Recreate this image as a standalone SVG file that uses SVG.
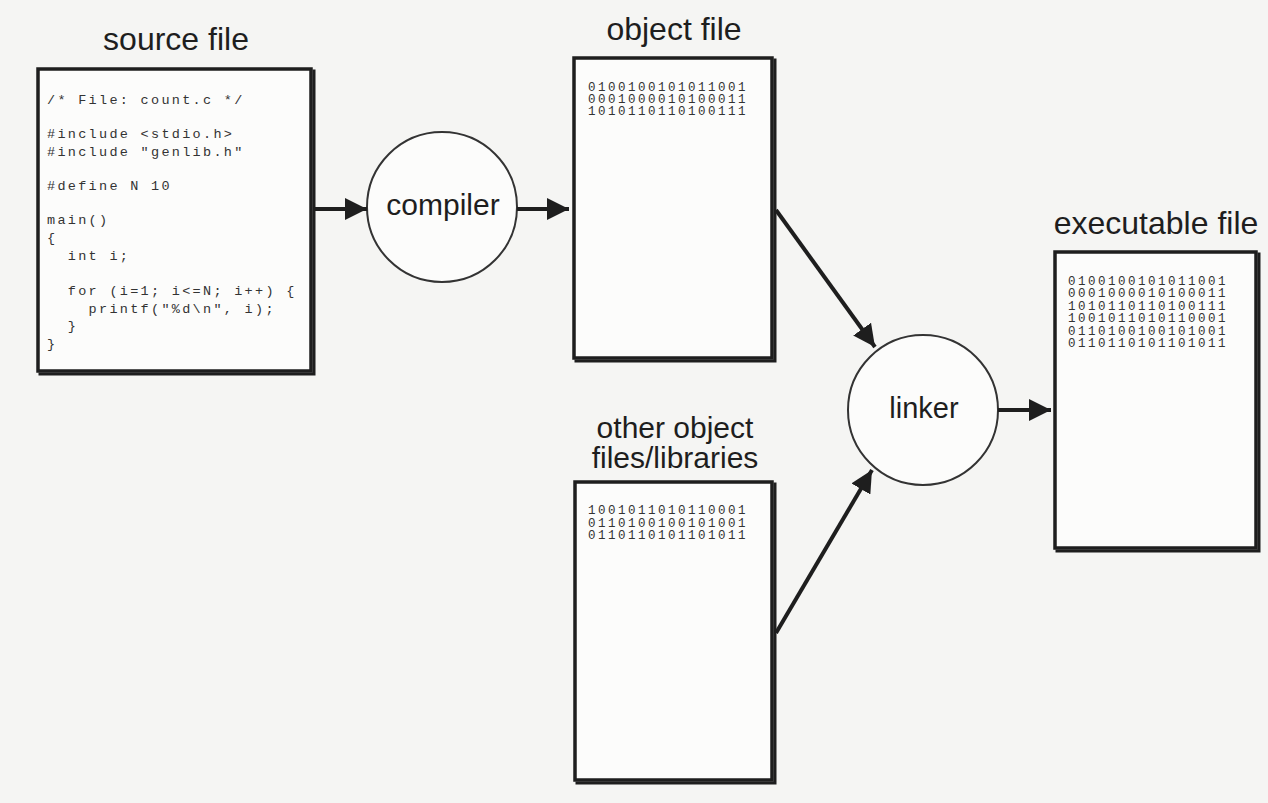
<svg xmlns="http://www.w3.org/2000/svg" width="1268" height="803" viewBox="0 0 1268 803">
<style>
.bg{fill:#f5f5f3}
.box{fill:#fcfcfb;stroke:#1e1e1e;stroke-width:3.5}
.sh{fill:none;stroke:#1e1e1e;stroke-width:3;stroke-linecap:square}
.circ{fill:#fcfcfb;stroke:#333;stroke-width:2}
.title{font-family:"Liberation Sans","DejaVu Sans",sans-serif;font-size:32px;fill:#1e1e1e;text-anchor:middle}
.code{font-family:"Liberation Mono","DejaVu Sans Mono",monospace;font-size:13.5px;fill:#333;letter-spacing:2.3px}
.bin{font-family:"Liberation Mono","DejaVu Sans Mono",monospace;font-size:12.5px;fill:#333;letter-spacing:2.5px}
.conn{stroke:#1e1e1e;stroke-width:4;fill:none}
</style>
<defs>
<marker id="ah" viewBox="0 0 10 10" refX="10" refY="5" markerWidth="5.5" markerHeight="5.5" markerUnits="strokeWidth" orient="auto">
<path d="M0,0 L10,5 L0,10 z" fill="#1e1e1e"/>
</marker>
</defs>
<rect class="bg" x="0" y="0" width="1268" height="803"/>

<g id="source-file">
<text class="title" x="176" y="50">source file</text>
<rect class="box" x="38" y="69" width="273" height="302"/>
<polyline class="sh" points="314,71 314,374 40,374"/>
<text class="code" x="47" y="104">/* File: count.c */</text>
<text class="code" x="47" y="138">#include &lt;stdio.h&gt;</text>
<text class="code" x="47" y="156">#include "genlib.h"</text>
<text class="code" x="47" y="190">#define N 10</text>
<text class="code" x="47" y="224">main()</text>
<text class="code" x="47" y="242">{</text>
<text class="code" x="47" y="260" xml:space="preserve">  int i;</text>
<text class="code" x="47" y="295" xml:space="preserve">  for (i=1; i&lt;=N; i++) {</text>
<text class="code" x="47" y="313" xml:space="preserve">    printf("%d\n", i);</text>
<text class="code" x="47" y="330" xml:space="preserve">  }</text>
<text class="code" x="47" y="348">}</text>
</g>

<g id="compiler">
<circle class="circ" cx="442" cy="207" r="75"/>
<text class="title" x="443" y="215" style="font-size:30px">compiler</text>
</g>

<g id="object-file">
<text class="title" x="674" y="40">object file</text>
<rect class="box" x="574" y="58" width="198" height="300"/>
<polyline class="sh" points="775,60 775,361 576,361"/>
<text class="bin" x="588" y="91">0100100101011001</text>
<text class="bin" x="588" y="103">0001000010100011</text>
<text class="bin" x="588" y="115">1010110110100111</text>
</g>

<g id="other-object-files">
<text class="title" x="675" y="438" style="font-size:30px">other object</text>
<text class="title" x="675" y="468" style="font-size:30px">files/libraries</text>
<rect class="box" x="575" y="482" width="197" height="298"/>
<polyline class="sh" points="775,484 775,783 577,783"/>
<text class="bin" x="588" y="514">1001011010110001</text>
<text class="bin" x="588" y="527">0110100100101001</text>
<text class="bin" x="588" y="539">0110110101101011</text>
</g>

<g id="linker">
<circle class="circ" cx="923" cy="410" r="75"/>
<text class="title" x="924" y="418" style="font-size:29px">linker</text>
</g>

<g id="executable-file">
<text class="title" x="1156" y="234">executable file</text>
<rect class="box" x="1055" y="252" width="201" height="296"/>
<polyline class="sh" points="1259,254 1259,551 1057,551"/>
<text class="bin" x="1068" y="285">0100100101011001</text>
<text class="bin" x="1068" y="297">0001000010100011</text>
<text class="bin" x="1068" y="310">1010110110100111</text>
<text class="bin" x="1068" y="322">1001011010110001</text>
<text class="bin" x="1068" y="335">0110100100101001</text>
<text class="bin" x="1068" y="347">0110110101101011</text>
</g>

<g id="connectors">
<line class="conn" x1="313" y1="209" x2="367" y2="209" marker-end="url(#ah)"/>
<line class="conn" x1="517" y1="209" x2="569" y2="209" marker-end="url(#ah)"/>
<line class="conn" x1="776" y1="210" x2="875" y2="347" marker-end="url(#ah)"/>
<line class="conn" x1="776" y1="633" x2="872" y2="470" marker-end="url(#ah)"/>
<line class="conn" x1="998" y1="410" x2="1051" y2="410" marker-end="url(#ah)"/>
</g>
</svg>
